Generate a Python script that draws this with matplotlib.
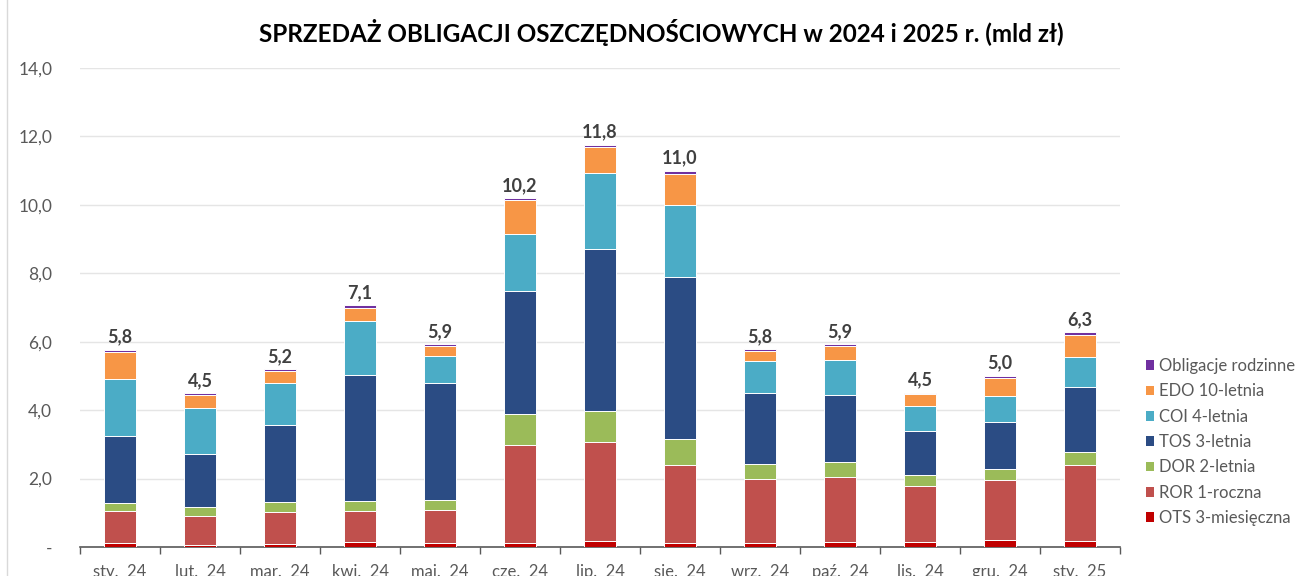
import matplotlib
matplotlib.use("Agg")
import matplotlib.pyplot as plt
from matplotlib.lines import Line2D
from matplotlib.patches import Patch
import numpy as np

plt.rcParams['font.family'] = ['Lato', 'DejaVu Sans']

MONTHS = ["sty.  24", "lut.  24", "mar.  24", "kwi.  24", "maj.  24", "cze.  24",
          "lip.  24", "sie.  24", "wrz.  24", "paź.  24", "lis.  24", "gru.  24",
          "sty.  25"]

OTS = [0.11, 0.06, 0.10, 0.14, 0.11, 0.11, 0.17, 0.12, 0.13, 0.15, 0.16, 0.19, 0.18]
ROR = [0.93, 0.86, 0.92, 0.92, 0.97, 2.87, 2.90, 2.28, 1.87, 1.89, 1.62, 1.77, 2.23]
DOR = [0.24, 0.24, 0.29, 0.29, 0.30, 0.91, 0.91, 0.76, 0.44, 0.44, 0.32, 0.31, 0.37]
TOS = [1.97, 1.56, 2.27, 3.69, 3.40, 3.59, 4.72, 4.73, 2.07, 1.96, 1.29, 1.38, 1.91]
COI = [1.66, 1.33, 1.21, 1.57, 0.81, 1.66, 2.24, 2.10, 0.93, 1.03, 0.73, 0.77, 0.86]
EDO = [0.78, 0.39, 0.35, 0.39, 0.28, 0.99, 0.76, 0.92, 0.29, 0.40, 0.34, 0.52, 0.65]
ROD = [0.08, 0.05, 0.06, 0.06, 0.05, 0.07, 0.06, 0.09, 0.05, 0.06, 0.05, 0.07, 0.08]

SERIES = [
    ("OTS 3-miesięczna", OTS, "#C00000"),
    ("ROR 1-roczna", ROR, "#C0504D"),
    ("DOR 2-letnia", DOR, "#9BBB59"),
    ("TOS 3-letnia", TOS, "#2B4C84"),
    ("COI 4-letnia", COI, "#4BACC6"),
    ("EDO 10-letnia", EDO, "#F79646"),
    ("Obligacje rodzinne", ROD, "#7030A0"),
]

fig = plt.figure(figsize=(13.04, 5.76), dpi=100)
ax = fig.add_axes([80 / 1304, 29 / 576, 1040 / 1304, 479 / 576])

x = np.arange(len(MONTHS))
bottom = np.zeros(len(MONTHS))
for name, vals, col in SERIES:
    ax.bar(x, vals, width=0.39, bottom=bottom, color=col, edgecolor="white",
           linewidth=0.7, label=name, zorder=3)
    bottom += np.array(vals)

for xi, tot in zip(x, bottom):
    ax.annotate(f"{tot:.1f}".replace(".", ","), (xi, tot), xytext=(0, 3),
                textcoords="offset points", ha="center", va="bottom",
                fontsize=13, fontweight="bold", color="#404040")

ax.set_xlim(-0.5, len(MONTHS) - 0.5)
ax.set_ylim(0, 14)
yt = np.arange(0, 15, 2)
ax.set_yticks(yt)
ax.set_yticklabels(["-"] + [f"{v:.1f}".replace(".", ",") for v in yt[1:]])
ax.tick_params(axis="y", length=0, pad=20, labelsize=12.5, labelcolor="#595959")
ax.set_xticks(x)
ax.set_xticklabels(MONTHS)
ax.set_xticks(np.arange(-0.5, len(MONTHS)), minor=True)
ax.tick_params(axis="x", which="major", length=0, pad=12, labelsize=12,
               labelcolor="#595959")
ax.tick_params(axis="x", which="minor", length=5, width=1, color="#595959",
               direction="out")
for s in ["left", "right", "top"]:
    ax.spines[s].set_visible(False)
ax.spines["bottom"].set_color("#595959")
ax.spines["bottom"].set_linewidth(1.2)
ax.grid(axis="y", color="#E5E5E5", linewidth=1, zorder=0)
ax.set_axisbelow(True)

fig.text(661 / 1304, 1 - 33 / 576,
         "SPRZEDAŻ OBLIGACJI OSZCZĘDNOŚCIOWYCH w 2024 i 2025 r. (mld zł)",
         ha="center", va="center", fontsize=17.5, fontweight="bold", color="black")

handles = [Patch(facecolor=c, edgecolor="none", label=n) for n, _, c in SERIES][::-1]
leg = fig.legend(handles=handles, loc="upper left",
                 bbox_to_anchor=(1131 / 1304, 1 - 343 / 576), frameon=False,
                 fontsize=12, handlelength=0.5, handleheight=0.5,
                 handletextpad=0.3, labelspacing=0.56)
for t in leg.get_texts():
    t.set_color("#595959")

fig.add_artist(Line2D([7 / 1304, 7 / 1304], [0, 1], color="#D9D9D9",
                      linewidth=1, transform=fig.transFigure))

fig.savefig("out.png", dpi=100)
